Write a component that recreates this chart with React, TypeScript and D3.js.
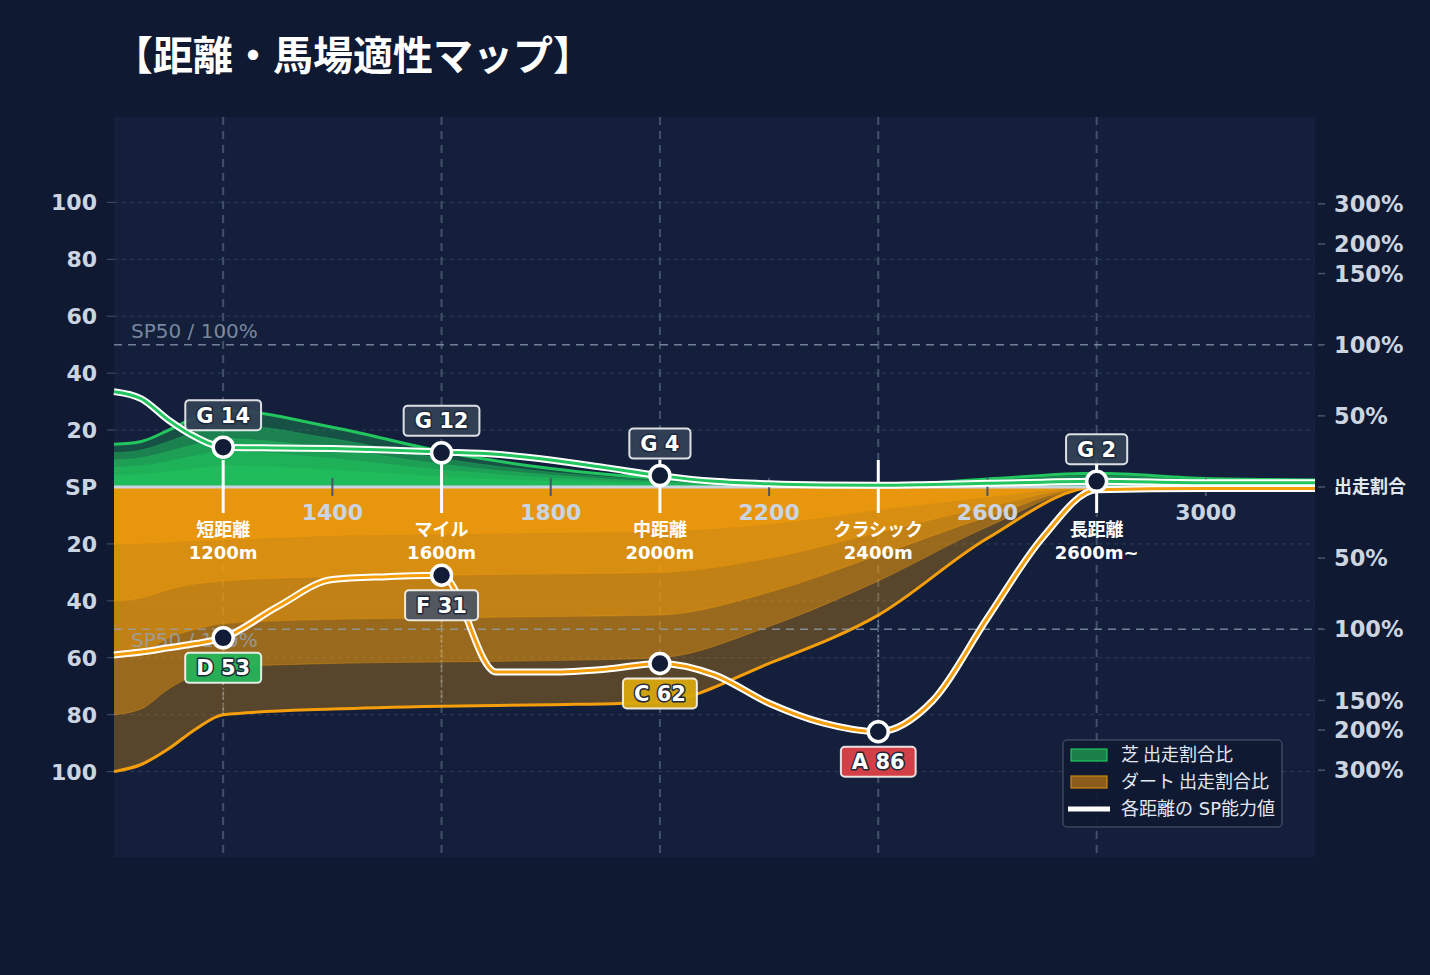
import { scaleLinear, area, line, curveMonotoneX } from "d3";

const DIST = [1000, 1050, 1100, 1150, 1200, 1400, 1600, 1800, 2000, 2200, 2400, 2600, 2800, 3000, 3200];

// turf (芝) run-ratio bands, outer -> inner
const TURF_1 = [15, 16, 20, 24.5, 27, 21, 12.5, 6.5, 3, 1.2, 0.6, 2.8, 4.8, 3, 2.5];
const TURF_2 = [12, 13, 16, 19.5, 22, 17, 10, 5.2, 2.4, 1, 0.5, 2.3, 4, 2.5, 2.1];
const TURF_3 = [9.5, 10.3, 12.5, 15, 17, 13.5, 8, 4.2, 1.9, 0.8, 0.4, 1.8, 3.2, 2, 1.7];
const TURF_4 = [7, 7.5, 9, 11, 12.5, 10, 6, 3.2, 1.4, 0.6, 0.3, 1.3, 2.4, 1.5, 1.3];
const TURF_5 = [4, 4.3, 5.5, 6.5, 7.5, 6, 3.6, 2, 0.9, 0.4, 0.2, 0.8, 1.5, 1, 0.8];

// dirt (ダート) run-ratio bands, outer -> inner (drawn downward)
const DIRT_1 = [100, 97.5, 92, 85, 80, 78, 77, 76.5, 75.5, 62, 45, 18, 0, 0, 0];
const DIRT_2 = [80, 78, 71, 66, 63.5, 62, 61.5, 61, 60, 49, 33, 14, 0, 0, 0];
const DIRT_3 = [60, 58.5, 53, 50, 48, 46.5, 46, 45.5, 45, 37, 24, 10.5, 0, 0, 0];
const DIRT_4 = [40, 39, 36, 34, 33, 31.5, 31, 30.5, 30, 25, 16, 7, 0, 0, 0];
const DIRT_5 = [20, 19.8, 19.3, 18.8, 18.5, 17, 16.5, 16, 15.5, 13, 8, 3.5, 0, 0, 0];

const BAND_OPACITY = [0.3, 0.42, 0.45, 0.45, 0.5];

// SP lines
const SP_DIST = [1000, 1050, 1100, 1150, 1200, 1300, 1400, 1500, 1600, 1700, 1800, 1900, 2000, 2100, 2200, 2300, 2400, 2500, 2600, 2700, 2800, 3000, 3200];
const TURF_SP = [33.5, 31, 23.5, 17.5, 14, 13.7, 13.5, 13, 12.3, 11.5, 9.5, 6.8, 4, 2, 1.1, 0.7, 0.6, 0.9, 1.3, 1.7, 2, 1.5, 1.5];
const DIRT_SP = [59, 58, 56.5, 55, 53, 42, 32.5, 31.5, 31, 65, 65, 64, 62, 66, 76, 83, 86, 75, 46, 18, 1, 0.5, 0.5];

// distance categories
const CAT_DIST = [1200, 1600, 2000, 2400, 2800];
const CAT_NAMES = ["短距離", "マイル", "中距離", "クラシック", "長距離"];
const CAT_METERS = ["1200m", "1600m", "2000m", "2400m", "2600m~"];

// badges
const TURF_BADGE_DIST = [1200, 1600, 2000, 2800];
const TURF_BADGE_GRADE = ["G", "G", "G", "G"];
const TURF_BADGE_SP = [14, 12, 4, 2];
const DIRT_BADGE_DIST = [1200, 1600, 2000, 2400];
const DIRT_BADGE_GRADE = ["D", "F", "C", "A"];
const DIRT_BADGE_SP = [53, 31, 62, 86];

const GRADE_COLORS: Record<string, string> = {
  G: "#334155",
  F: "#4d5563",
  D: "#25b459",
  C: "#d8a70f",
  A: "#dc4147",
};

// axes
const X_TICKS = [1400, 1800, 2200, 2600, 3000];
const LEFT_TICKS = [20, 40, 60, 80, 100];
const RATIO_LABELS = ["50%", "100%", "150%", "200%", "300%"];
const RATIO_VALUES = [25, 50, 75, 85.4, 99.5];

const W = 1430;
const H = 975;
const PLOT = { left: 114, right: 1315, top: 117, bottom: 857 };

const NUM_FONT = "'DejaVu Sans', 'Noto Sans CJK JP', sans-serif";
const JP_FONT = "'Noto Sans CJK JP', 'DejaVu Sans', sans-serif";

const GREEN = "#22c55e";
const ORANGE = "#f59e0b";
const AXIS_TEXT = "#cbd5e1";

let measureCtx: CanvasRenderingContext2D | null = null;
function textWidth(text: string, font: string) {
  if (!measureCtx) {
    measureCtx = document.createElement("canvas").getContext("2d");
  }
  if (!measureCtx) return text.length * 12;
  measureCtx.font = font;
  return measureCtx.measureText(text).width;
}

export default function App() {
  const x = scaleLinear().domain([1000, 3200]).range([PLOT.left, PLOT.right]);
  const y = scaleLinear().domain([-130, 130]).range([PLOT.bottom, PLOT.top]);
  const y0 = y(0);

  const turfBands = [TURF_1, TURF_2, TURF_3, TURF_4, TURF_5];
  const dirtBands = [DIRT_1, DIRT_2, DIRT_3, DIRT_4, DIRT_5];

  const bandArea = (sign: number) =>
    area<number>()
      .x((_, i) => x(DIST[i]))
      .y0(y0)
      .y1((d) => y(sign * d))
      .curve(curveMonotoneX);
  const bandLine = (sign: number) =>
    line<number>()
      .x((_, i) => x(DIST[i]))
      .y((d) => y(sign * d))
      .curve(curveMonotoneX);
  const spLine = (sign: number) =>
    line<number>()
      .x((_, i) => x(SP_DIST[i]))
      .y((d) => y(sign * d))
      .curve(curveMonotoneX);

  const badgeFont = `bold 21px ${NUM_FONT}`;

  const badge = (cx: number, cy: number, grade: string, sp: number, key: string) => {
    const label = `${grade} ${sp}`;
    const w = textWidth(label, badgeFont) + 22;
    const h = 30;
    return (
      <g key={key}>
        <rect
          x={cx - w / 2}
          y={cy - h / 2}
          width={w}
          height={h}
          rx={4}
          fill={GRADE_COLORS[grade]}
          fillOpacity={0.95}
          stroke="rgba(255,255,255,0.85)"
          strokeWidth={2}
        />
        <text
          x={cx}
          y={cy}
          dy="0.36em"
          textAnchor="middle"
          fontFamily={NUM_FONT}
          fontWeight="bold"
          fontSize={21}
          fill="#ffffff"
          stroke="#1e293b"
          strokeWidth={3}
          strokeLinejoin="round"
          paintOrder="stroke"
        >
          {label}
        </text>
      </g>
    );
  };

  const dirtAt = (d: number) => DIRT_1[DIST.indexOf(d)] ?? 0;

  return (
    <svg
      width={W}
      height={H}
      style={{ position: "absolute", left: 0, top: 0, display: "block" }}
    >
      <rect x={0} y={0} width={W} height={H} fill="#0f1931" />
      <text
        x={113}
        y={70}
        fontFamily={JP_FONT}
        fontWeight="bold"
        fontSize={40}
        fill="#ffffff"
      >
        【距離・馬場適性マップ】
      </text>

      <rect
        x={PLOT.left}
        y={PLOT.top}
        width={PLOT.right - PLOT.left}
        height={PLOT.bottom - PLOT.top}
        fill="#131f3b"
      />

      {/* horizontal grid */}
      {LEFT_TICKS.flatMap((t) => [t, -t]).map((t) => (
        <line
          key={`g${t}`}
          x1={PLOT.left}
          x2={PLOT.right}
          y1={y(t)}
          y2={y(t)}
          stroke="rgba(100,116,139,0.35)"
          strokeWidth={1}
          strokeDasharray="4,4"
        />
      ))}

      {/* category verticals */}
      {CAT_DIST.map((d) => (
        <line
          key={`v${d}`}
          x1={x(d)}
          x2={x(d)}
          y1={PLOT.top}
          y2={PLOT.bottom}
          stroke="rgba(100,116,139,0.6)"
          strokeWidth={2}
          strokeDasharray="8,6"
        />
      ))}

      {/* dirt bands */}
      {dirtBands.map((b, i) => (
        <path
          key={`da${i}`}
          d={bandArea(-1)(b) ?? ""}
          fill={ORANGE}
          fillOpacity={BAND_OPACITY[i]}
        />
      ))}
      {dirtBands.map((b, i) => (
        <path
          key={`dl${i}`}
          d={bandLine(-1)(b) ?? ""}
          fill="none"
          stroke={ORANGE}
          strokeOpacity={i === 0 ? 1 : 0.35}
          strokeWidth={i === 0 ? 3 : 1}
        />
      ))}

      {/* turf bands */}
      {turfBands.map((b, i) => (
        <path
          key={`ta${i}`}
          d={bandArea(1)(b) ?? ""}
          fill={GREEN}
          fillOpacity={BAND_OPACITY[i]}
        />
      ))}
      {turfBands.map((b, i) => (
        <path
          key={`tl${i}`}
          d={bandLine(1)(b) ?? ""}
          fill="none"
          stroke={GREEN}
          strokeOpacity={i === 0 ? 1 : 0.3}
          strokeWidth={i === 0 ? 3 : 1}
        />
      ))}

      {/* SP50 reference lines */}
      {[50, -50].map((v) => (
        <g key={`sp${v}`}>
          <line
            x1={PLOT.left}
            x2={PLOT.right + 8}
            y1={y(v)}
            y2={y(v)}
            stroke="rgba(148,163,184,0.75)"
            strokeWidth={1.5}
            strokeDasharray="8,6"
          />
          <text
            x={131}
            y={v > 0 ? y(v) - 7 : y(v) + 18}
            fontFamily={NUM_FONT}
            fontSize={20}
            fill="rgba(148,163,184,0.8)"
          >
            SP50 / 100%
          </text>
        </g>
      ))}

      {/* baseline */}
      <line
        x1={PLOT.left}
        x2={PLOT.right}
        y1={y0}
        y2={y0}
        stroke="#cbd5e1"
        strokeWidth={3}
      />

      {/* x ticks */}
      {X_TICKS.map((t) => (
        <g key={`x${t}`}>
          <line
            x1={x(t)}
            x2={x(t)}
            y1={y0 - 9}
            y2={y0 + 9}
            stroke="#475569"
            strokeWidth={2}
          />
          <text
            x={x(t)}
            y={y0 + 33}
            textAnchor="middle"
            fontFamily={NUM_FONT}
            fontWeight="bold"
            fontSize={22}
            fill={AXIS_TEXT}
          >
            {t}
          </text>
        </g>
      ))}

      {/* left axis */}
      {LEFT_TICKS.flatMap((t) => [t, -t]).map((t) => (
        <g key={`l${t}`}>
          <line
            x1={PLOT.left - 7}
            x2={PLOT.left}
            y1={y(t)}
            y2={y(t)}
            stroke="#475569"
            strokeWidth={1}
          />
          <text
            x={97}
            y={y(t)}
            dy="0.36em"
            textAnchor="end"
            fontFamily={NUM_FONT}
            fontWeight="bold"
            fontSize={22}
            fill={AXIS_TEXT}
          >
            {Math.abs(t)}
          </text>
        </g>
      ))}
      <text
        x={97}
        y={y0}
        dy="0.36em"
        textAnchor="end"
        fontFamily={NUM_FONT}
        fontWeight="bold"
        fontSize={22}
        fill={AXIS_TEXT}
      >
        SP
      </text>

      {/* right axis */}
      {RATIO_VALUES.flatMap((v, i) => [
        { v, label: RATIO_LABELS[i] },
        { v: -v, label: RATIO_LABELS[i] },
      ]).map((t) => (
        <g key={`r${t.v}`}>
          <line
            x1={PLOT.right + 3}
            x2={PLOT.right + 10}
            y1={y(t.v)}
            y2={y(t.v)}
            stroke="#475569"
            strokeWidth={1.5}
          />
          <text
            x={1334}
            y={y(t.v)}
            dy="0.36em"
            fontFamily={NUM_FONT}
            fontWeight="bold"
            fontSize={22.5}
            fill={AXIS_TEXT}
          >
            {t.label}
          </text>
        </g>
      ))}
      <line
        x1={PLOT.right + 3}
        x2={PLOT.right + 10}
        y1={y0}
        y2={y0}
        stroke="#475569"
        strokeWidth={1.5}
      />
      <text
        x={1334}
        y={y0}
        dy="0.36em"
        fontFamily={JP_FONT}
        fontWeight="bold"
        fontSize={18}
        fill="#e2e8f0"
      >
        出走割合
      </text>

      {/* category ticks + labels */}
      {CAT_DIST.map((d, i) => (
        <g key={`c${d}`}>
          <line
            x1={x(d)}
            x2={x(d)}
            y1={y0 - 27}
            y2={y0 + 26}
            stroke="#ffffff"
            strokeWidth={3}
          />
          <text
            x={x(d)}
            y={y0 + 49}
            textAnchor="middle"
            fontFamily={JP_FONT}
            fontWeight="bold"
            fontSize={18}
            fill="#ffffff"
          >
            {CAT_NAMES[i]}
          </text>
          <text
            x={x(d)}
            y={y0 + 72}
            textAnchor="middle"
            fontFamily={NUM_FONT}
            fontWeight="bold"
            fontSize={18}
            fill="#ffffff"
          >
            {CAT_METERS[i]}
          </text>
        </g>
      ))}

      {/* dotted drops for dirt SP points */}
      {DIRT_BADGE_DIST.map((d, i) => (
        <line
          key={`dd${d}`}
          x1={x(d)}
          x2={x(d)}
          y1={y(-DIRT_BADGE_SP[i])}
          y2={y(-dirtAt(d))}
          stroke="rgba(203,213,225,0.45)"
          strokeWidth={1.5}
          strokeDasharray="2,3"
        />
      ))}

      {/* SP lines */}
      <path d={spLine(-1)(DIRT_SP) ?? ""} fill="none" stroke="#ffffff" strokeWidth={7} />
      <path d={spLine(-1)(DIRT_SP) ?? ""} fill="none" stroke={ORANGE} strokeWidth={3} />
      <path d={spLine(1)(TURF_SP) ?? ""} fill="none" stroke="#ffffff" strokeWidth={7} />
      <path d={spLine(1)(TURF_SP) ?? ""} fill="none" stroke={GREEN} strokeWidth={3} />

      {/* points */}
      {TURF_BADGE_DIST.map((d, i) => (
        <circle
          key={`tp${d}`}
          cx={x(d)}
          cy={y(TURF_BADGE_SP[i])}
          r={10}
          fill="#111c36"
          stroke="#ffffff"
          strokeWidth={3.5}
        />
      ))}
      {DIRT_BADGE_DIST.map((d, i) => (
        <circle
          key={`dp${d}`}
          cx={x(d)}
          cy={y(-DIRT_BADGE_SP[i])}
          r={10}
          fill="#111c36"
          stroke="#ffffff"
          strokeWidth={3.5}
        />
      ))}

      {/* badges */}
      {TURF_BADGE_DIST.map((d, i) =>
        badge(x(d), y(TURF_BADGE_SP[i]) - 32, TURF_BADGE_GRADE[i], TURF_BADGE_SP[i], `tb${d}`)
      )}
      {DIRT_BADGE_DIST.map((d, i) =>
        badge(x(d), y(-DIRT_BADGE_SP[i]) + 30, DIRT_BADGE_GRADE[i], DIRT_BADGE_SP[i], `db${d}`)
      )}

      {/* legend */}
      <g transform="translate(1063,740)">
        <rect
          x={0}
          y={0}
          width={219}
          height={87}
          rx={4}
          fill="#0f1931"
          fillOpacity={0.92}
          stroke="rgba(100,116,139,0.5)"
          strokeWidth={1.5}
        />
        <rect x={8} y={9} width={36} height={12} fill="#1b7f48" stroke={GREEN} strokeWidth={1.2} />
        <text x={58} y={15} dy="0.36em" fontFamily={JP_FONT} fontSize={18} fill="#e2e8f0">
          芝 出走割合比
        </text>
        <rect x={8} y={36} width={36} height={12} fill="#8a5d1c" stroke="#d08810" strokeWidth={1.2} />
        <text x={58} y={42} dy="0.36em" fontFamily={JP_FONT} fontSize={18} fill="#e2e8f0">
          ダート 出走割合比
        </text>
        <line x1={5} x2={47} y1={69} y2={69} stroke="#ffffff" strokeWidth={5} />
        <text x={58} y={69} dy="0.36em" fontFamily={NUM_FONT} fontSize={18} fill="#e2e8f0">
          各距離の SP能力値
        </text>
      </g>
    </svg>
  );
}
